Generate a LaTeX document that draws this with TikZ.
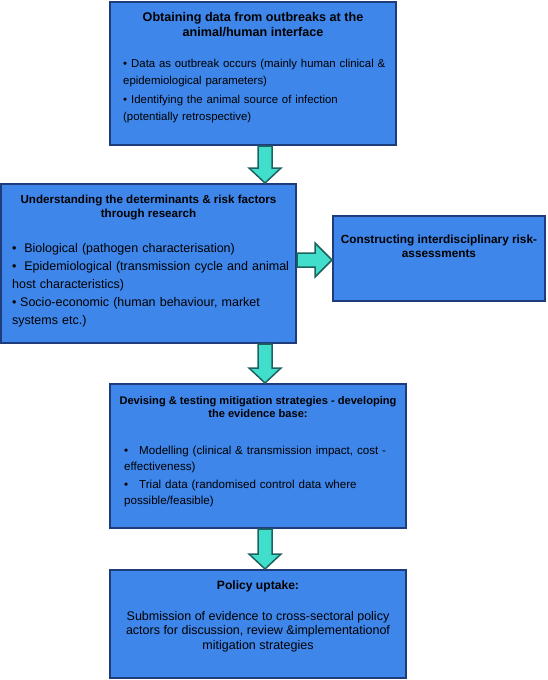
\documentclass[tikz,border=0pt]{standalone}
\usepackage{fontspec}
\setmainfont{Liberation Sans}
\usepackage{xcolor}
\usetikzlibrary{calc}
\definecolor{boxBlue}{RGB}{62,134,234}
\definecolor{boxEdge}{RGB}{30,60,122}
\definecolor{arrowFill}{RGB}{66,222,204}
\definecolor{arrowEdge}{RGB}{28,98,96}
\newcommand\fillColor{boxBlue}
\newcommand\fsize[2]{\fontsize{#1}{#2}\selectfont}
\newcommand\bul[2][8pt]{\hangindent=#1\hangafter=1\noindent\makebox[#1][l]{\textbullet}#2\par}
\newcommand\downArrow[2]{%
  \draw[blockarrow] let \p1=(#1), \p2=(#2) in
    (\x1-7pt,\y1) -- (\x1-7pt,\y2+15pt) -- (\x1-16pt,\y2+15pt) -- (\x1,\y2)
    -- (\x1+16pt,\y2+15pt) -- (\x1+7pt,\y2+15pt) -- (\x1+7pt,\y1) -- cycle;}
\newcommand\rightArrow[2]{%
  \draw[blockarrow] let \p1=(#1), \p2=(#2) in
    (\x1,\y1+7pt) -- (\x2-17pt,\y1+7pt) -- (\x2-17pt,\y1+17pt) -- (\x2,\y1)
    -- (\x2-17pt,\y1-17pt) -- (\x2-17pt,\y1-7pt) -- (\x1,\y1-7pt) -- cycle;}

\tikzset{
  box/.style={draw=boxEdge, fill=\fillColor, line width=2pt, rectangle, inner sep=0pt},
  title/.style={align=center, inner sep=0pt, anchor=north},
  body/.style={align=left, inner sep=0pt, text width=#1, anchor=north west},
  blockarrow/.style={draw=arrowEdge, fill=arrowFill, line width=1.5pt, line join=miter},
}

\begin{document}
\begin{tikzpicture}[x=1pt, y=-1pt]
    \useasboundingbox (0,0) rectangle (547,680);
    \coordinate (ax) at (265,0);
    \coordinate (ay) at (0,260);

    \node[box, minimum width=286pt, minimum height=143pt] (b1) at (253,73.5) {};
    \node[title, font=\bfseries\fsize{12.6}{15}] (t1) at ([yshift=-11.5pt]b1.north)
        {Obtaining data from outbreaks at the\\animal/human interface};
    \node[body=272pt, font=\fsize{11.4}{17}] (l1) at ([xshift=14pt, yshift=-58pt]b1.north west)
        {\setlength\parskip{2.5pt}%
         \bul{Data as outbreak occurs (mainly human clinical \&\\epidemiological parameters)}
         \bul{Identifying the animal source of infection\\(potentially retrospective)}};

    \node[box, minimum width=295pt, minimum height=159pt] (b2) at (148.5,263.5) {};
    \node[title, font=\bfseries\fsize{11.6}{14}] (t2) at ([yshift=-11.5pt]b2.north)
        {Understanding the determinants \& risk factors\\through research};
    \node[body=285pt, font=\fsize{12.5}{18}] (l2) at ([xshift=12pt, yshift=-60pt]b2.north west)
        {\bul{\ Biological (pathogen characterisation)}
         \bul{\ Epidemiological (transmission cycle and animal\\host characteristics)}
         \bul{Socio-economic (human behaviour, market\\systems etc.)}};

    \node[box, minimum width=212pt, minimum height=85pt] (b3) at (439,258.5) {};
    \node[title, font=\bfseries\fsize{11.8}{14}] (t3) at ([yshift=-19.5pt]b3.north)
        {Constructing interdisciplinary risk-\\assessments};

    \node[box, minimum width=296pt, minimum height=144pt] (b4) at (258,456) {};
    \node[title, font=\bfseries\fsize{11.1}{13.5}] (t4) at ([yshift=-13pt]b4.north)
        {Devising \& testing mitigation strategies - developing\\the evidence base:};
    \node[body=280pt, font=\fsize{11.6}{16}] (l4) at ([xshift=15pt, yshift=-62.5pt]b4.north west)
        {\setlength\parskip{2pt}%
         \bul[15pt]{Modelling (clinical \& transmission impact, cost -\\effectiveness)}
         \bul[15pt]{Trial data (randomised control data where\\possible/feasible)}};

    \node[box, minimum width=296pt, minimum height=108pt] (b5) at (258,624) {};
    \node[title, font=\bfseries\fsize{12.1}{14}] (t5) at ([yshift=-11.5pt]b5.north) {Policy uptake:};
    \node[title, font=\fsize{12.5}{14.5}] (l5) at ([yshift=-42pt]b5.north)
        {Submission of evidence to cross-sectoral policy\\actors for discussion, review \&implementationof\\mitigation strategies};

    \downArrow{b1.south -| ax}{b2.north -| ax}
    \rightArrow{b2.east |- ay}{b3.west |- ay}
    \downArrow{b2.south -| ax}{b4.north -| ax}
    \downArrow{b4.south -| ax}{b5.north -| ax}
\end{tikzpicture}
\end{document}
